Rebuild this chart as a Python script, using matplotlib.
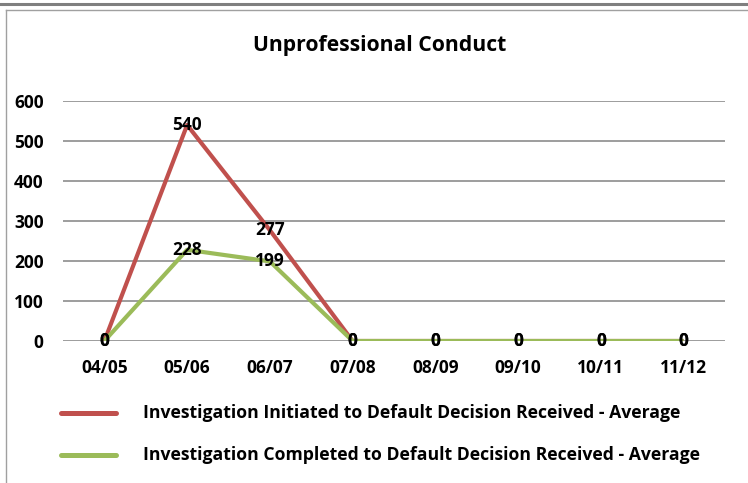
import matplotlib
matplotlib.use("Agg")
import matplotlib.pyplot as plt
from matplotlib.lines import Line2D

plt.rcParams['font.family'] = ['Open Sans', 'DejaVu Sans']

periods = ["04/05", "05/06", "06/07", "07/08", "08/09", "09/10", "10/11", "11/12"]
initiated_avg = [0, 540, 277, 0, 0, 0, 0, 0]
completed_avg = [0, 228, 199, 0, 0, 0, 0, 0]
series_names = [
    "Investigation Initiated to Default Decision Received - Average",
    "Investigation Completed to Default Decision Received - Average",
]
y_ticks = [0, 100, 200, 300, 400, 500, 600]

red = "#C0504D"
green = "#9BBB59"
grid_col = "#8C8C8C"

W, H = 748, 483
fig = plt.figure(figsize=(W / 100, H / 100), dpi=100)
fig.patch.set_facecolor("white")

# outer frame lines (top edge and left edge)
fig.add_artist(Line2D([0, 1], [1 - 4 / H, 1 - 4 / H], color="#7F7F7F", lw=2.2, transform=fig.transFigure))
fig.add_artist(Line2D([6 / W, 1], [1 - 9.5 / H, 1 - 9.5 / H], color="#A0A0A0", lw=1.0, transform=fig.transFigure))
fig.add_artist(Line2D([6 / W, 6 / W], [0, 1 - 9.5 / H], color="#A0A0A0", lw=1.0, transform=fig.transFigure))

left, right = 63 / W, 725 / W
bottom, top = (H - 341) / H, (H - 101) / H
ax = fig.add_axes([left, bottom, right - left, top - bottom])

x = list(range(len(periods)))
ax.plot(x, initiated_avg, color=red, lw=3.0, solid_capstyle="butt", zorder=3)
ax.plot(x, completed_avg, color=green, lw=3.0, solid_capstyle="butt", zorder=4)

lab_fs = 12.5
for xi, v in zip(x, initiated_avg):
    ax.text(xi, v, f"{v}", ha="center", va="center", fontsize=lab_fs, fontweight="bold", zorder=5)
for xi, v in zip(x, completed_avg):
    ax.text(xi, v, f"{v}", ha="center", va="center", fontsize=lab_fs, fontweight="bold", zorder=5)

ax.set_xlim(-0.5, len(periods) - 0.5)
ax.set_ylim(0, 600)
ax.set_yticks(y_ticks)
ax.set_yticklabels([str(t) for t in y_ticks], fontsize=lab_fs, fontweight="bold")
ax.set_xticks(x)
ax.set_xticklabels(periods, fontsize=lab_fs, fontweight="bold")
ax.tick_params(axis="both", length=0)
ax.tick_params(axis="y", pad=14)
ax.tick_params(axis="x", pad=13)
ax.grid(axis="y", color=grid_col, lw=1.2)
ax.set_axisbelow(True)
for s in ax.spines.values():
    s.set_visible(False)

fig.text(380 / W, 1 - 45 / H, "Unprofessional Conduct", ha="center", va="center",
         fontsize=15.2, fontweight="bold")

# legend
for yy, col, name in [(413, red, series_names[0]), (455, green, series_names[1])]:
    fig.add_artist(Line2D([61 / W, 116 / W], [1 - yy / H, 1 - yy / H], color=col, lw=3.6,
                          solid_capstyle="round", transform=fig.transFigure))
    fig.text(143 / W, 1 - yy / H, name, ha="left", va="center", fontsize=12.7, fontweight="bold")

fig.savefig("out.png", dpi=100)
